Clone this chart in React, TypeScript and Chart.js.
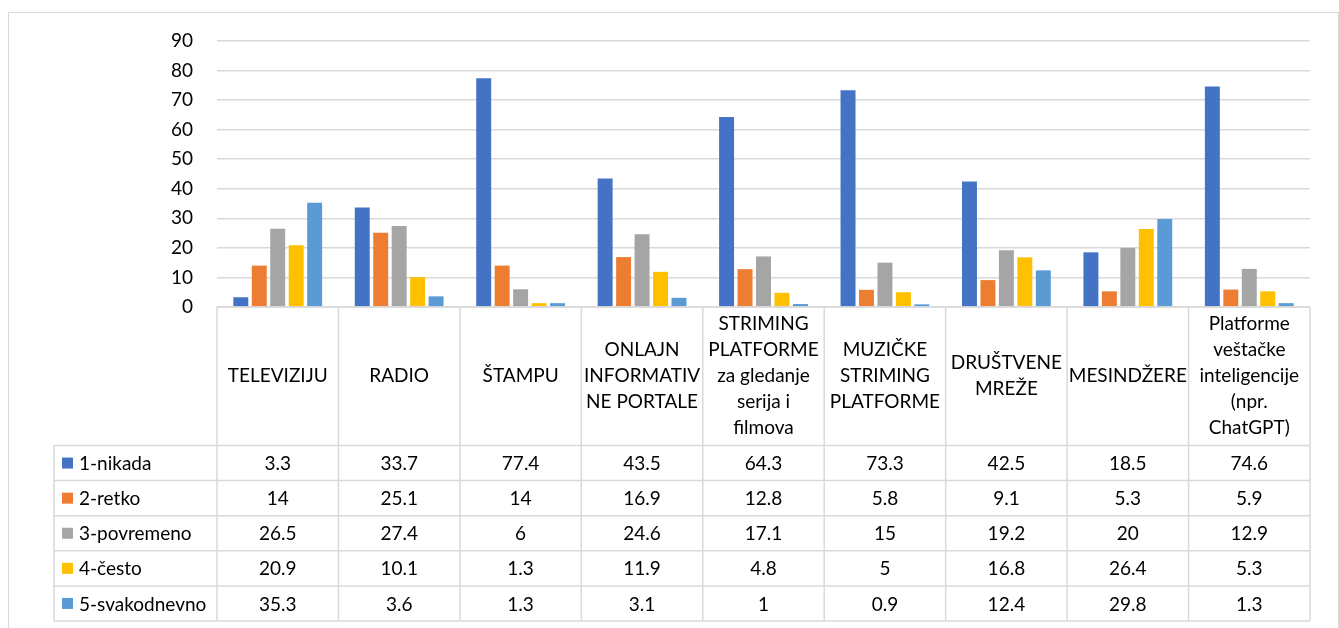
import React, { useEffect, useRef } from "react";
import { Chart, registerables } from "chart.js";

Chart.register(...registerables);

const categoryLines: string[][] = [
  ["TELEVIZIJU"],
  ["RADIO"],
  ["ŠTAMPU"],
  ["ONLAJN", "INFORMATIV", "NE PORTALE"],
  ["STRIMING", "PLATFORME", "za gledanje", "serija i", "filmova"],
  ["MUZIČKE", "STRIMING", "PLATFORME"],
  ["DRUŠTVENE", "MREŽE"],
  ["MESINDŽERE"],
  ["Platforme", "veštačke", "inteligencije", "(npr.", "ChatGPT)"],
];

const seriesNames = ["1-nikada", "2-retko", "3-povremeno", "4-često", "5-svakodnevno"];
const seriesColors = ["#4472C4", "#ED7D31", "#A5A5A5", "#FFC000", "#5B9BD5"];

const nikada = [3.3, 33.7, 77.4, 43.5, 64.3, 73.3, 42.5, 18.5, 74.6];
const retko = [14, 25.1, 14, 16.9, 12.8, 5.8, 9.1, 5.3, 5.9];
const povremeno = [26.5, 27.4, 6, 24.6, 17.1, 15, 19.2, 20, 12.9];
const cesto = [20.9, 10.1, 1.3, 11.9, 4.8, 5, 16.8, 26.4, 5.3];
const svakodnevno = [35.3, 3.6, 1.3, 3.1, 1, 0.9, 12.4, 29.8, 1.3];

const yMin = 0;
const yMax = 90;
const yStep = 10;

const seriesValues = [nikada, retko, povremeno, cesto, svakodnevno];

const FONT = "Lato";
const FONT_SIZE = 19;
const LINE = "#d9d9d9";

const dataTablePlugin = {
  id: "dataTable",
  afterDraw(chart: any) {
    const { ctx, chartArea } = chart;
    const x = chart.scales.x;
    const n = categoryLines.length;
    const colW = (x.right - x.left) / n;
    const headerTop = chartArea.bottom;
    const headerBottom = headerTop + 138.5;
    const rowH = 35.1;
    const legendLeft = 45;
    const tableBottom = headerBottom + rowH * seriesNames.length;

    ctx.save();
    ctx.strokeStyle = LINE;
    ctx.lineWidth = 1.5;

    ctx.beginPath();
    ctx.moveTo(x.left, headerTop);
    ctx.lineTo(x.right, headerTop);
    ctx.stroke();

    for (let i = 0; i <= n; i++) {
      const px = x.left + i * colW;
      ctx.beginPath();
      ctx.moveTo(px, headerTop);
      ctx.lineTo(px, tableBottom);
      ctx.stroke();
    }
    ctx.beginPath();
    ctx.moveTo(legendLeft, headerBottom);
    ctx.lineTo(legendLeft, tableBottom);
    ctx.stroke();

    for (let r = 0; r <= seriesNames.length; r++) {
      const py = headerBottom + r * rowH;
      ctx.beginPath();
      ctx.moveTo(legendLeft, py);
      ctx.lineTo(x.right, py);
      ctx.stroke();
    }

    ctx.fillStyle = "#000";
    ctx.font = `${FONT_SIZE}px ${FONT}`;
    ctx.textBaseline = "middle";
    ctx.textAlign = "center";

    const lineH = 26;
    const hMid = (headerTop + headerBottom) / 2;
    categoryLines.forEach((lines, i) => {
      const cx = x.getPixelForValue(i);
      const startY = hMid - ((lines.length - 1) * lineH) / 2;
      lines.forEach((ln, k) => {
        ctx.fillText(ln, cx, startY + k * lineH);
      });
    });

    seriesNames.forEach((name, r) => {
      const cy = headerBottom + r * rowH + rowH / 2;
      ctx.fillStyle = seriesColors[r];
      ctx.fillRect(53, cy - 5.5, 11, 11);
      ctx.fillStyle = "#000";
      ctx.textAlign = "left";
      ctx.fillText(name, 70, cy + 1);
      ctx.textAlign = "center";
      seriesValues[r].forEach((v, i) => {
        ctx.fillText(String(v), x.getPixelForValue(i), cy + 1);
      });
    });

    ctx.restore();
  },
};

export default function App() {
  const canvasRef = useRef<HTMLCanvasElement | null>(null);

  useEffect(() => {
    if (!canvasRef.current) return;
    const chart = new Chart(canvasRef.current, {
      type: "bar",
      data: {
        labels: categoryLines.map((l) => l.join(" ")),
        datasets: seriesNames.map((name, i) => ({
          label: name,
          data: seriesValues[i],
          backgroundColor: seriesColors[i],
          borderWidth: 0,
          barPercentage: 0.81,
          categoryPercentage: 0.76,
        })),
      },
      options: {
        responsive: false,
        animation: false,
        devicePixelRatio: 1,
        layout: { padding: { left: 0, right: 28, top: 28, bottom: 326 } },
        plugins: {
          legend: { display: false },
          tooltip: { enabled: false },
          title: { display: false },
        },
        scales: {
          x: { display: false },
          y: {
            min: yMin,
            max: yMax,
            ticks: {
              stepSize: yStep,
              padding: 24,
              color: "#000",
              font: { family: FONT, size: FONT_SIZE, lineHeight: 0.3 },
            },
            grid: { color: LINE, lineWidth: 1.5, drawTicks: false },
            border: { display: false },
            afterFit: (s: any) => {
              s.width = 208;
            },
          },
        },
      },
      plugins: [dataTablePlugin],
    });
    return () => chart.destroy();
  }, []);

  return (
    <div
      style={{
        position: "fixed",
        left: 8,
        top: 12,
        width: 1331,
        height: 640,
        border: `1px solid ${LINE}`,
        boxSizing: "border-box",
        background: "#fff",
      }}
    >
      <canvas ref={canvasRef} width={1329} height={620} style={{ display: "block" }} />
    </div>
  );
}
